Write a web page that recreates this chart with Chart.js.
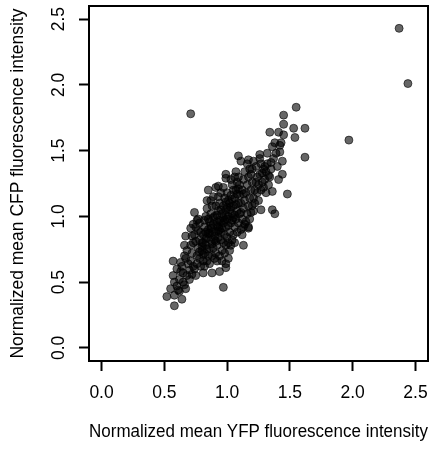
<!DOCTYPE html>
<html>
<head>
<meta charset="utf-8">
<script src="https://cdn.jsdelivr.net/npm/chart.js@4/dist/chart.umd.min.js"></script>
<style>
  body { margin: 0; background: #fff; }
</style>
</head>
<body>
<canvas id="chart" width="432" height="450"></canvas>
<script>
// tick marks shared by both axes
const tickValues = [0, 0.5, 1, 1.5, 2, 2.5];
const tickLabels = ["0.0", "0.5", "1.0", "1.5", "2.0", "2.5"];

// normalized mean YFP (x) and CFP (y) per cell
const yfp = [
  0.71, 2.37, 2.44, 1.97, 0.97,
  1.55, 1.45, 1.45, 1.53, 1.62, 1.34, 1.41, 1.45, 1.54, 1.36, 1.42, 1.42, 1.62, 1.44, 1.32, 1.26, 1.35, 1.09, 1.17, 1.21, 1.27, 1.11, 1.44, 1.36, 1.48, 1.25, 1.27, 1.36, 1.38, 1.19, 1.17, 1.13, 1.03, 1.01, 0.99,
  0.58, 0.52, 0.58, 0.64, 0.55, 0.58, 0.57, 0.57, 0.63, 0.67, 0.65, 0.70, 0.73, 0.61, 0.66, 0.70, 0.81, 0.88, 0.94, 0.99, 0.66, 0.67,
  0.85, 0.93, 0.91, 0.84, 0.74, 0.76, 0.71, 0.99, 1.06, 0.99, 1.17, 1.13, 1.20, 1.30, 1.33, 1.24, 1.28,
  0.60, 0.62, 0.63, 0.64, 0.66, 0.68, 0.62, 0.69, 0.68, 0.60, 0.65, 0.67,
  0.71, 0.72, 0.73, 0.74, 0.75, 0.76, 0.77, 0.78, 0.79, 0.72, 0.74, 0.76, 0.78, 0.80, 0.71, 0.73, 0.77, 0.79, 0.75, 0.80, 0.78, 0.72,
  0.81, 0.82, 0.83, 0.84, 0.85, 0.86, 0.87, 0.88, 0.81, 0.82, 0.83, 0.84, 0.85, 0.86, 0.87, 0.88, 0.89, 0.90, 0.82, 0.84, 0.86, 0.88, 0.89, 0.90, 0.81, 0.83, 0.85, 0.87, 0.89, 0.90,
  0.91, 0.92, 0.93, 0.94, 0.95, 0.96, 0.97, 0.98, 0.91, 0.92, 0.93, 0.94, 0.95, 0.96, 0.97, 0.98, 0.99, 1.00, 0.92, 0.94, 0.96, 0.98, 0.99, 1.00, 0.91, 0.93, 0.95, 0.97, 0.99, 1.00, 0.97, 0.93,
  1.01, 1.02, 1.03, 1.04, 1.05, 1.06, 1.07, 1.08, 1.01, 1.02, 1.03, 1.04, 1.05, 1.06, 1.07, 1.08, 1.09, 1.10, 1.02, 1.04, 1.06, 1.08, 1.09, 1.10, 1.03, 1.05, 1.07, 1.09, 1.01, 1.10,
  1.11, 1.12, 1.13, 1.14, 1.15, 1.16, 1.17, 1.18, 1.11, 1.12, 1.13, 1.14, 1.15, 1.16, 1.17, 1.18, 1.19, 1.20, 1.12, 1.14, 1.18, 1.20, 1.19, 1.16,
  1.21, 1.22, 1.23, 1.24, 1.25, 1.26, 1.27, 1.28, 1.29, 1.22, 1.30, 1.23, 1.26, 1.29, 1.21,
  1.31, 1.32, 1.34, 1.35, 1.37, 1.39, 1.40, 1.41, 1.33, 1.38, 1.43, 1.31,
  0.78, 0.80, 0.83, 0.85, 0.87, 0.88, 0.90, 0.92, 0.94, 0.95, 0.97, 0.99, 1.00, 1.02, 1.04, 1.05, 1.07, 1.08, 0.81, 0.84,
  0.86, 0.89, 0.91, 0.93, 0.96, 0.98, 1.01, 1.03, 1.06, 1.09, 0.77, 0.82, 0.87, 0.92, 0.95, 0.99, 1.04, 1.11, 1.13, 0.75
];
const cfp = [
  1.78, 2.43, 2.01, 1.58, 0.46,
  1.83, 1.77, 1.70, 1.67, 1.67, 1.64, 1.64, 1.62, 1.60, 1.53, 1.54, 1.49, 1.45, 1.42, 1.48, 1.47, 1.41, 1.46, 1.43, 1.42, 1.40, 1.42, 1.32, 1.19, 1.17, 1.12, 1.05, 1.05, 1.02, 1.03, 0.91, 0.78, 0.78, 0.68, 0.61,
  0.32, 0.39, 0.40, 0.37, 0.45, 0.50, 0.55, 0.66, 0.65, 0.68, 0.57, 0.59, 0.62, 0.44, 0.48, 0.52, 0.57, 0.57, 0.58, 0.64, 0.78, 0.85,
  1.20, 1.23, 1.22, 1.12, 1.03, 0.97, 0.91, 1.32, 1.30, 1.29, 0.92, 0.92, 1.36, 1.38, 1.31, 1.30, 1.33,
  0.47, 0.52, 0.58, 0.62, 0.70, 0.74, 0.43, 0.64, 0.55, 0.60, 0.50, 0.45,
  0.66, 0.72, 0.80, 0.86, 0.92, 0.70, 0.76, 0.82, 0.88, 0.56, 0.60, 0.64, 0.68, 0.74, 0.78, 0.94, 0.98, 0.62, 0.55, 0.80, 0.95, 0.85,
  0.66, 0.72, 0.78, 0.84, 0.90, 0.96, 1.02, 1.08, 0.86, 0.92, 1.00, 1.06, 0.70, 0.76, 0.82, 0.88, 0.94, 1.00, 0.62, 0.66, 0.64, 0.70, 0.76, 0.82, 0.80, 0.88, 0.98, 1.12, 1.15, 0.68,
  0.72, 0.78, 0.84, 0.90, 0.96, 1.02, 1.08, 1.14, 0.88, 0.96, 1.04, 1.10, 1.18, 0.74, 0.80, 0.86, 0.92, 0.98, 0.66, 0.70, 0.66, 0.72, 0.78, 0.84, 1.08, 0.92, 0.82, 0.95, 1.05, 1.18, 1.22, 1.15,
  0.80, 0.88, 0.95, 1.02, 1.08, 1.14, 1.20, 1.26, 1.00, 1.10, 1.16, 1.24, 0.86, 0.92, 0.98, 1.04, 1.10, 1.16, 0.74, 0.82, 0.80, 0.88, 0.95, 1.02, 1.28, 1.20, 1.34, 1.30, 1.12, 1.24,
  0.90, 0.98, 1.06, 1.12, 1.18, 1.24, 1.30, 1.36, 1.10, 1.20, 1.28, 1.34, 0.96, 1.02, 1.08, 1.14, 1.20, 1.26, 0.86, 0.94, 0.98, 1.08, 1.32, 1.40,
  1.14, 1.20, 1.26, 1.18, 1.24, 1.32, 1.20, 1.26, 1.36, 1.10, 1.28, 1.38, 1.44, 1.22, 1.04,
  1.34, 1.40, 1.30, 1.36, 1.44, 1.48, 1.38, 1.28, 1.24, 1.56, 1.56, 1.18,
  0.73, 0.77, 0.83, 0.87, 0.91, 0.79, 0.85, 0.93, 0.97, 0.88, 0.99, 1.01, 1.07, 1.05, 1.13, 0.99, 1.09, 1.17, 0.71, 0.75,
  0.87, 0.99, 0.81, 0.89, 0.91, 0.97, 0.93, 1.07, 1.01, 1.21, 0.89, 0.97, 0.93, 1.01, 1.05, 1.11, 0.97, 1.03, 1.17, 0.81
];

const xTitle = "Normalized mean YFP fluorescence intensity";
const yTitle = "Normalized mean CFP fluorescence intensity";

const FONT = '"Liberation Sans", Arial, Helvetica, sans-serif';
const FONT_SIZE = 17.5;

// R style: full box round the plot, y tick labels turned upright
const boxPlugin = {
  id: "box",
  afterDraw(chart) {
    const { ctx, chartArea: a, scales: { y } } = chart;
    ctx.save();
    ctx.strokeStyle = "#000";
    ctx.lineWidth = 2;
    ctx.strokeRect(a.left, a.top, a.right - a.left, a.bottom - a.top);
    ctx.fillStyle = "#000";
    ctx.font = FONT_SIZE + "px " + FONT;
    ctx.textAlign = "center";
    ctx.textBaseline = "middle";
    tickValues.forEach((v, i) => {
      ctx.save();
      ctx.translate(a.left - 30, y.getPixelForValue(v));
      ctx.rotate(-Math.PI / 2);
      ctx.fillText(tickLabels[i], 0, 0);
      ctx.restore();
    });
    ctx.restore();
  }
};

const setTicks = scale => { scale.ticks = tickValues.map(v => ({ value: v })); };
// fixed axis sizes, no extra room for overhanging end labels
const fixSize = (w, h) => s => {
  if (w) s.width = w;
  if (h) s.height = h;
  s.paddingLeft = s.paddingRight = s.paddingTop = s.paddingBottom = 0;
};
const gridOpts = {
  drawOnChartArea: false,
  drawTicks: true,
  tickLength: 10,
  tickColor: "#000",
  tickWidth: 2
};

new Chart(document.getElementById("chart"), {
  type: "scatter",
  data: {
    datasets: [{
      data: yfp.map((x, i) => ({ x: x, y: cfp[i] })),
      pointRadius: 4,
      pointHoverRadius: 4,
      backgroundColor: "rgba(0,0,0,0.6)",
      borderColor: "rgba(0,0,0,0.6)",
      borderWidth: 1
    }]
  },
  options: {
    responsive: false,
    animation: false,
    events: [],
    layout: { autoPadding: false, padding: { top: 6, right: 4, left: 0, bottom: 0 } },
    plugins: { legend: { display: false }, tooltip: { enabled: false } },
    scales: {
      x: {
        type: "linear",
        min: -0.1,
        max: 2.6,
        afterBuildTicks: setTicks,
        afterFit: fixSize(0, 89),
        grid: gridOpts,
        border: { display: false },
        ticks: {
          autoSkip: false,
          maxRotation: 0,
          padding: 12,
          color: "#000",
          font: { family: FONT, size: FONT_SIZE },
          callback: (v, i) => tickLabels[i]
        },
        title: {
          display: true,
          text: xTitle,
          color: "#000",
          font: { family: FONT, size: FONT_SIZE },
          padding: { top: 0, bottom: 7 }
        }
      },
      y: {
        type: "linear",
        min: -0.1,
        max: 2.6,
        afterBuildTicks: setTicks,
        afterFit: fixSize(89, 0),
        grid: gridOpts,
        border: { display: false },
        ticks: { display: false },
        title: {
          display: true,
          text: yTitle,
          color: "#000",
          font: { family: FONT, size: FONT_SIZE },
          padding: { top: 8, bottom: 0 }
        }
      }
    }
  },
  plugins: [boxPlugin]
});
</script>
</body>
</html>
